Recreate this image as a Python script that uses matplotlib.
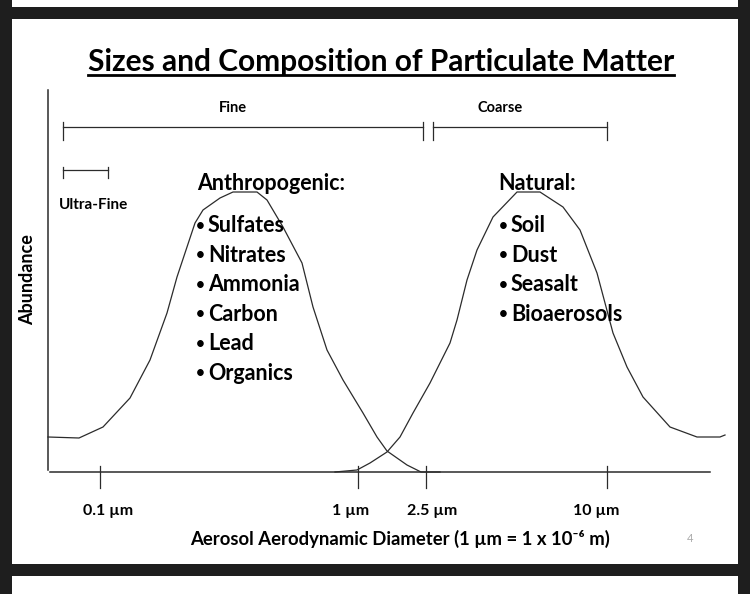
import matplotlib
matplotlib.use("Agg")
import matplotlib.pyplot as plt
from matplotlib.patches import Rectangle

plt.rcParams["font.family"] = ["Lato", "DejaVu Sans"]

# Schemakurven (x = Position auf der Groessenachse, y = Haeufigkeit ueber der Achse)
fine_x = [48, 79, 103, 130, 150, 167, 177, 187, 195, 203, 220, 233, 257, 267,
          283, 302, 313, 327, 343, 363, 377, 387, 407, 421, 440]
fine_y = [35, 34, 45, 74, 112, 159, 195, 225, 249, 262, 274, 280, 280, 272,
          245, 209, 165, 122, 92, 59, 35, 21, 7, 0, 0]
coarse_x = [335, 357, 370, 387, 400, 413, 430, 443, 450, 457, 467, 477, 493,
            517, 540, 563, 580, 597, 613, 627, 643, 670, 697, 720, 725]
coarse_y = [0, 2, 9, 20, 35, 59, 89, 115, 129, 152, 192, 222, 255, 280, 280,
            265, 242, 199, 139, 105, 75, 45, 35, 35, 37]

tick_pos = [100, 358, 426, 607]
tick_labels = ["0.1 µm", "1 µm", "2.5 µm", "10 µm"]
label_shift = [8, -7, 6, -11]

# Groessenklassen (Start, Ende)
fine_range = (63, 423)
coarse_range = (433, 607)
ultra_range = (63, 108)

anthro_items = ["Sulfates", "Nitrates", "Ammonia", "Carbon", "Lead", "Organics"]
natural_items = ["Soil", "Dust", "Seasalt", "Bioaerosols"]

W, H = 750, 594
fig = plt.figure(figsize=(W / 100, H / 100), dpi=100)
fig.patch.set_facecolor("#1e1e1e")

# Folienflaechen
def px_rect(x0, y0, x1, y1):
    fig.add_artist(Rectangle((x0 / W, 1 - y1 / H), (x1 - x0) / W, (y1 - y0) / H,
                             transform=fig.transFigure, facecolor="white",
                             edgecolor="none", zorder=0))

px_rect(12, 0, 738, 7)
px_rect(12, 19, 738, 564)
px_rect(12, 576, 738, 594)

ax = fig.add_axes([0, 0, 1, 1])
ax.set_xlim(0, W)
ax.set_ylim(472 - H, 472)
ax.axis("off")
ax.patch.set_alpha(0)

line_c = "#2b2b2b"

# Achsen
ax.plot([50, 710], [0, 0], color=line_c, lw=1.1)
ax.plot([48, 48], [2, 382], color=line_c, lw=1.1)
for p, lab, s in zip(tick_pos, tick_labels, label_shift):
    ax.plot([p, p], [6, -16], color=line_c, lw=0.9)
    ax.text(p + s, -39, lab, ha="center", va="center", fontsize=11.5, fontweight="bold")

# Kurven
ax.plot(fine_x, fine_y, color=line_c, lw=0.9)
ax.plot(coarse_x, coarse_y, color=line_c, lw=0.9)

# Klammern
def bracket(r, y, up, down, lw=0.9):
    ax.plot([r[0], r[1]], [y, y], color=line_c, lw=lw)
    for x in r:
        ax.plot([x, x], [y + up, y - down], color=line_c, lw=lw)

bracket(fine_range, 345, 5, 13)
bracket(coarse_range, 345, 5, 13)
bracket(ultra_range, 302, 3, 8)

ax.text(233, 364, "Fine", ha="center", va="center", fontsize=10.5, fontweight="bold")
ax.text(500, 364, "Coarse", ha="center", va="center", fontsize=10.5, fontweight="bold")
ax.text(93, 267, "Ultra-Fine", ha="center", va="center", fontsize=11, fontweight="bold")

ax.text(197, 289, "Anthropogenic:", ha="left", va="center", fontsize=15.5, fontweight="bold")
ax.text(498, 289, "Natural:", ha="left", va="center", fontsize=15.5, fontweight="bold")
for i, item in enumerate(anthro_items):
    ax.text(196, 246 - i * 29.4, "•", ha="left", va="center", fontsize=11,
            fontweight="bold")
    ax.text(208, 246 - i * 29.4, item, ha="left", va="center", fontsize=15.5,
            fontweight="bold")
for i, item in enumerate(natural_items):
    ax.text(499, 246 - i * 29.4, "•", ha="left", va="center", fontsize=11,
            fontweight="bold")
    ax.text(511, 246 - i * 29.4, item, ha="left", va="center", fontsize=15.5,
            fontweight="bold")

ax.text(28, 192, "Abundance", ha="center", va="center", rotation=90, fontsize=13,
        fontweight="bold")
ax.text(400, -67, "Aerosol Aerodynamic Diameter (1 µm = 1 x 10⁻⁶ m)", ha="center",
        va="center", fontsize=13.3, fontweight="bold")
ax.text(690, -66, "4", ha="center", va="center", fontsize=8, color="#aaaaaa")

title = ax.text(381, 410, "Sizes and Composition of Particulate Matter", ha="center",
                va="center", fontsize=21.5, fontweight="bold")

# Unterstreichung des Titels
fig.canvas.draw()
bb = title.get_window_extent().transformed(ax.transData.inverted())
ax.plot([bb.x0, bb.x1], [bb.y0 + 1, bb.y0 + 1], color="black", lw=2)

fig.savefig("out.png", dpi=100, facecolor=fig.get_facecolor())
